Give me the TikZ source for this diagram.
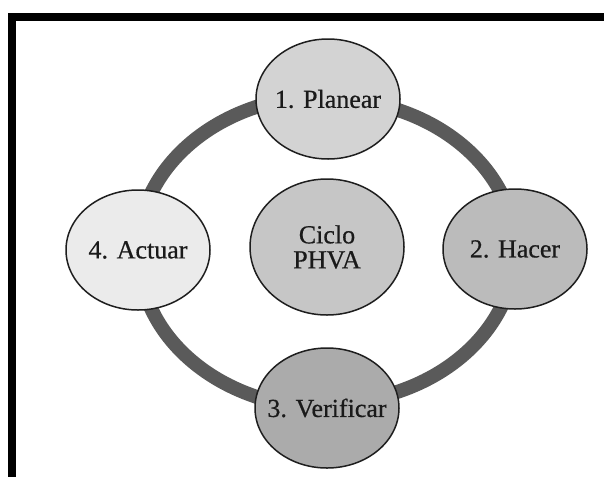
\documentclass[tikz,border=0pt]{standalone}
\usepackage{fontspec}
\setmainfont{Liberation Serif}
\usetikzlibrary{shapes.geometric,backgrounds}
\definecolor{ringgray}{HTML}{5A5A5A}
\definecolor{edgegray}{HTML}{1E1E1E}
\definecolor{txtgray}{HTML}{1A1A1A}
\definecolor{fplan}{HTML}{D3D3D3}
\definecolor{fhacer}{HTML}{BBBBBB}
\definecolor{fverif}{HTML}{ABABAB}
\definecolor{factuar}{HTML}{EBEBEB}
\definecolor{fciclo}{HTML}{C6C6C6}
\tikzset{
  stage/.style={ellipse, draw=edgegray, line width=1.5pt, inner sep=0pt,
    minimum width=144pt, minimum height=120pt},
  stagetext/.style={text=txtgray, font=\fontsize{26}{28}\selectfont\addfontfeature{FakeBold=0.6}, inner sep=0pt},
  ring/.style={draw=ringgray, line width=14pt}
}
\begin{document}
\begin{tikzpicture}[x=1pt,y=-1pt]
\useasboundingbox (0,0) rectangle (604,477);
% stages
\node[stage, fill=fplan] (plan) at (328,99) {};
\node[stage, fill=fhacer] (hacer) at (515,249) {};
\node[stage, fill=fverif] (verif) at (327,408) {};
\node[stage, fill=factuar] (actuar) at (138,250) {};
\node[stage, fill=fciclo, minimum width=154pt, minimum height=136pt] (ciclo) at (327,247) {};
\node[stagetext] (tplan) at (plan.center) {1. Planear};
\node[stagetext] (thacer) at (hacer.center) {2. Hacer};
\node[stagetext] (tverif) at (verif.center) {3. Verificar};
\node[stagetext] (tactuar) at (actuar.center) {4. Actuar};
\node[stagetext, align=center, font=\fontsize{26}{25}\selectfont\addfontfeature{FakeBold=0.6}] (tciclo) at (ciclo.center) {Ciclo\\PHVA};
% ring connectors and frame
\begin{scope}[on background layer]
\fill[white] (0,0) rectangle (604,477);
\fill[black] (8,13) rectangle (16,477);
\fill[black] (8,13) rectangle (604,21);
\draw[ring] (plan.center) arc[start angle=-90, end angle=0, x radius=188, y radius=154];
\draw[ring] (hacer.center) arc[start angle=0, end angle=90, x radius=188, y radius=154];
\draw[ring] (verif.center) arc[start angle=90, end angle=180, x radius=188, y radius=154];
\draw[ring] (actuar.center) arc[start angle=180, end angle=270, x radius=188, y radius=154];
\end{scope}
\end{tikzpicture}
\end{document}
